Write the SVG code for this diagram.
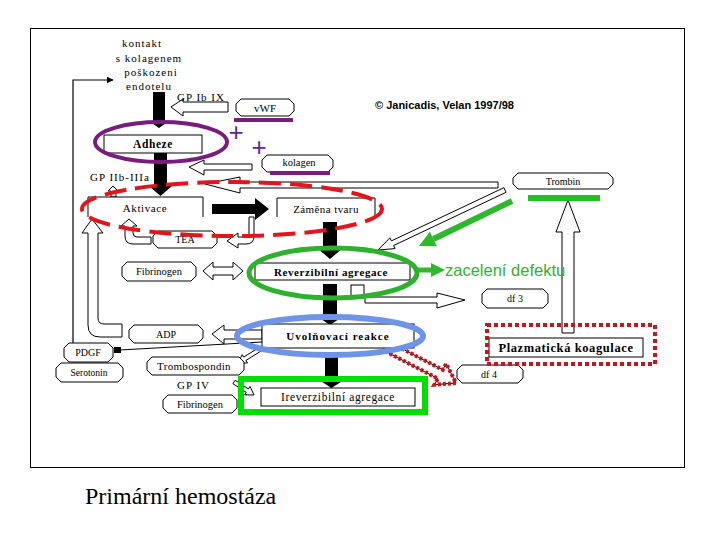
<svg xmlns="http://www.w3.org/2000/svg" width="720" height="540" viewBox="0 0 720 540">
<style>
.bx{fill:#fff;stroke:#000;stroke-width:1}
.ob{fill:none;stroke:#000;stroke-width:1}
.ha{fill:#fff;stroke:#000;stroke-width:1;stroke-linejoin:miter}
.ba{fill:#000;stroke:none}
.t{font-family:"Liberation Serif","Times New Roman",serif;font-size:11px;fill:#000;text-anchor:middle}
.tb{font-family:"Liberation Serif","Times New Roman",serif;font-size:11.5px;font-weight:bold;fill:#000;text-anchor:middle;letter-spacing:0.6px}
.gp{font-family:"Liberation Serif","Times New Roman",serif;font-size:11px;fill:#000;letter-spacing:1px}
.plus{font-family:"Liberation Sans",Arial,sans-serif;font-size:26px;fill:#5A2A96;text-anchor:middle}
</style>
<defs>
<marker id="blk" viewBox="0 0 10 10" refX="9" refY="5" markerWidth="7" markerHeight="7" markerUnits="userSpaceOnUse" orient="auto"><path d="M0,0 L10,5 L0,10 Z" fill="#000"/></marker>
</defs>
<rect width="720" height="540" fill="#fff"/>
<rect x="30.5" y="28.5" width="654" height="439" fill="none" stroke="#000" stroke-width="1"/>

<g id="connectors">
<path d="M73,343 V80 H113" fill="none" stroke="#000" stroke-width="1.2" marker-end="url(#blk)"/>
<polygon class="ba" points="153,92 165,92 165,121 169,121 159,128 149,121 153,121"/>
<polygon class="ha" points="171,107 183,99 183,102 228,102 228,112 183,112 183,116"/>
<polygon class="ha" points="189,167 204,160 204,164 252,164 252,170 204,170 204,175"/>
<polygon class="ba" points="154,153 167,153 167,186 172,186 160.5,196 149,186 154,186"/>
<polygon class="ha" points="205,184 240,177 240,182 498,182 498,188 240,188 240,193"/>
<polygon class="ha" points="113,186 118,191 116,191 116,197 111,197 111,191 108,191"/>
<polygon class="ba" points="212,204 255,204 255,198 269,209 255,220 255,214 212,214"/>
<path class="ha" d="M129,219 L137,226 L133,226 V233 Q133,237 137,237 H151 V244 H133 Q125,244 125,236 V226 H121 Z"/>
<path class="ha" d="M254,217 V236 Q254,244 246,244 H238 V248 L227,241 L238,233 V237 H246 Q249,237 249,234 V217 Z"/>
<path class="ha" d="M92,219 L103,233 L98,233 L98,318 Q98,324 104,324 L122,324 L122,337 L100,337 Q88,337 88,325 L88,233 L82,233 Z"/>
<polygon class="ba" points="323,222 337,222 337,248 343,248 330,259 317,248 323,248"/>
<polygon class="ha" points="503.9,187.7 391.4,240.9 389.9,237.8 378,250 395.1,248.6 393.6,245.5 506.1,192.3"/>
<line x1="512" y1="201" x2="433.4" y2="239" stroke="#2DB82D" stroke-width="6"/>
<polygon points="419,246 436.9,246.2 429.9,231.8" fill="#2DB82D"/>
<polygon class="ha" points="203,271 213,262 213,267 233,267 233,262 243,271 233,280 233,275 213,275 213,280"/>
<rect class="bx" x="351" y="285" width="13" height="12"/>
<polygon class="ha" points="365,297 437,297 437,293 465,300 437,308 437,303 365,303"/>
<polygon class="ba" points="323,284 337,284 337,317 342,317 330,325 318,317 323,317"/>
<polygon class="ha" points="212,334 224,325 224,330 262,330 262,339 224,339 224,344"/>
<line x1="262" y1="342" x2="120" y2="350" stroke="#000" stroke-width="1"/>
<rect x="114" y="347" width="7" height="6" fill="#000"/>
<polygon class="ha" points="260.9,346.3 243.7,357.1 242.2,354.6 238,363 247.5,363 245.9,360.5 263.1,349.7"/>
<polygon class="ha" points="235.1,380.3 248.4,388.9 250,386.4 254,395 244.6,394.8 246.2,392.3 232.9,383.7"/>
<polygon class="ba" points="325,356 338,356 338,380 344,380 331.5,388 319,380 325,380"/>
<polygon class="ha" points="568,200 580,232 574,232 574,333 562,333 562,232 556,232"/>
<polygon class="ha" points="388.4,341.6 442.7,369.8 446.2,363.7 456,383 434.4,384.7 437.9,378.6 383.6,350.4"/>
<polygon points="388.4,341.6 442.7,369.8 446.2,363.7 456,383 434.4,384.7 437.9,378.6 383.6,350.4" fill="none" stroke="#C4161C" stroke-width="4" stroke-dasharray="3 2"/>
<line x1="417" y1="270" x2="433" y2="270" stroke="#2DB82D" stroke-width="5"/>
<polygon points="431,263 445,270 431,277" fill="#2DB82D"/>
</g>

<g id="kontakt">
<text class="t" style="letter-spacing:1px" x="142" y="47">kontakt</text>
<text class="t" style="letter-spacing:1px" x="149" y="62">s kolagenem</text>
<text class="t" style="letter-spacing:1px" x="151" y="76">poškozeni</text>
<text class="t" style="letter-spacing:1px" x="149" y="90">endotelu</text>
</g>
<text class="gp" x="177" y="101">GP Ib IX</text>
<text class="gp" x="90" y="181">GP IIb-IIIa</text>
<text class="gp" x="177" y="389">GP IV</text>
<text x="375" y="109" font-family="Liberation Sans,Arial,sans-serif" font-size="11" font-weight="bold" fill="#000">© Janicadis, Velan 1997/98</text>

<g id="vwf"><path class="bx" d="M241,99 H289 L294,104 V111 L289,116 H241 L236,111 V104 Z"/><text class="t" x="265" y="112" font-size="10">vWF</text><rect x="234" y="118" width="59" height="4" fill="#7A1C7E"/></g>
<g id="kolagen"><path class="bx" d="M267,155 H328 L333,160 V167 L328,172 H267 L262,167 V160 Z"/><text class="t" x="299" y="166" style="font-size:10.5px">kolagen</text><rect x="270" y="171" width="60" height="4" fill="#7A1C7E"/></g>
<text class="plus" x="236" y="141">+</text>
<text class="plus" x="259" y="156">+</text>
<g id="adheze"><rect class="bx" x="104" y="135" width="98" height="18"/><text class="tb" x="153" y="148">Adheze</text></g>
<g id="aktivace"><path class="bx" d="M88,217 V197 H203 V217" /><text class="t" x="145" y="212" style="letter-spacing:0.6px">Aktivace</text></g>
<g id="zamena"><path class="bx" d="M277,217 V198 H375 V217"/><text class="t" x="326" y="213" style="letter-spacing:0.4px">Záměna tvaru</text></g>
<g id="trombin"><path class="bx" d="M518,173 H608 L613,178 V184 L608,189 H518 L513,184 V178 Z"/><text class="t" x="563" y="185" style="font-size:10px">Trombin</text><rect x="528" y="195" width="72" height="6" fill="#22C022"/></g>
<g id="tea"><path class="bx" d="M158,231 H212 L217,236 V243 L212,248 H158 L153,243 V236 Z"/><text class="t" x="185" y="243" style="font-size:10px">TEA</text></g>
<g id="fibrinogen1"><path class="bx" d="M127,262 H191 L196,267 V276 L191,281 H127 L122,276 V267 Z"/><text class="t" x="159" y="275" style="font-size:10.5px">Fibrinogen</text></g>
<g id="reverz"><rect class="bx" x="255" y="263" width="155" height="17"/><text class="tb" x="331" y="276" style="font-size:11px">Reverzibilní agregace</text></g>
<g id="df3"><path class="bx" d="M487,289 H543 L548,294 V303 L543,308 H487 L482,303 V294 Z"/><text class="t" x="515" y="302" style="font-size:10px">df 3</text></g>
<g id="adp"><path class="bx" d="M134,325 H198 L203,330 V338 L198,343 H134 L129,338 V330 Z"/><text class="t" x="166" y="338" style="font-size:10px">ADP</text></g>
<g id="uvol"><rect class="bx" x="262" y="324" width="152" height="24"/><text class="tb" x="338" y="340" style="font-size:11px;letter-spacing:1px">Uvolňovací reakce</text></g>
<g id="pdgf"><path class="bx" d="M69,343 H108 L113,348 V357 L108,362 H69 L64,357 V348 Z"/><text class="t" x="88" y="356" style="font-size:10px">PDGF</text></g>
<g id="serotonin"><path class="bx" d="M61,363 H118 L123,368 V377 L118,382 H61 L56,377 V368 Z"/><text class="t" x="89" y="376" style="font-size:9.5px">Serotonin</text></g>
<g id="trombospondin"><path class="bx" d="M152,357 H239 L244,362 V370 L239,375 H152 L147,370 V362 Z"/><text class="t" x="194" y="370" style="letter-spacing:0.3px">Trombospondin</text></g>
<g id="fibrinogen2"><path class="bx" d="M168,395 H232 L237,400 V408 L232,413 H168 L163,408 V400 Z"/><text class="t" x="200" y="408" style="font-size:10.5px">Fibrinogen</text></g>
<g id="irev"><rect class="bx" x="261" y="388" width="154" height="18"/><text class="t" x="338" y="401" style="font-size:11.5px;letter-spacing:0.6px">Ireverzibilní agregace</text></g>
<g id="df4"><path class="bx" d="M462,365 H518 L523,370 V378 L518,383 H462 L457,378 V370 Z"/><text class="t" x="489" y="378" style="font-size:10px">df 4</text></g>
<g id="plazma"><rect class="bx" x="489" y="338" width="154" height="19"/><text class="tb" x="566" y="352" style="font-size:12.5px">Plazmatická koagulace</text></g>

<g id="highlights">
<ellipse cx="161" cy="142" rx="66" ry="20" fill="none" stroke="#7A1C7E" stroke-width="4"/>
<ellipse cx="232" cy="209" rx="150" ry="27" fill="none" stroke="#E3151B" stroke-width="4" stroke-dasharray="22 9"/>
<ellipse cx="333" cy="273" rx="84" ry="25" fill="none" stroke="#2EB22E" stroke-width="5"/>
<ellipse cx="330" cy="336" rx="93" ry="19" fill="none" stroke="#6E94E8" stroke-width="6"/>
<rect x="241" y="379" width="184" height="33" fill="none" stroke="#00E000" stroke-width="6"/>
<rect x="487" y="325" width="168" height="39" fill="none" stroke="#C4161C" stroke-width="4" stroke-dasharray="4 3"/>
</g>
<text x="445" y="276" font-family="Liberation Sans,Arial,sans-serif" font-size="16.5" fill="#33B035">zacelení defektu</text>
<text x="85" y="504" font-family="Liberation Serif,Times New Roman,serif" font-size="24" fill="#000">Primární hemostáza</text>
</svg>
